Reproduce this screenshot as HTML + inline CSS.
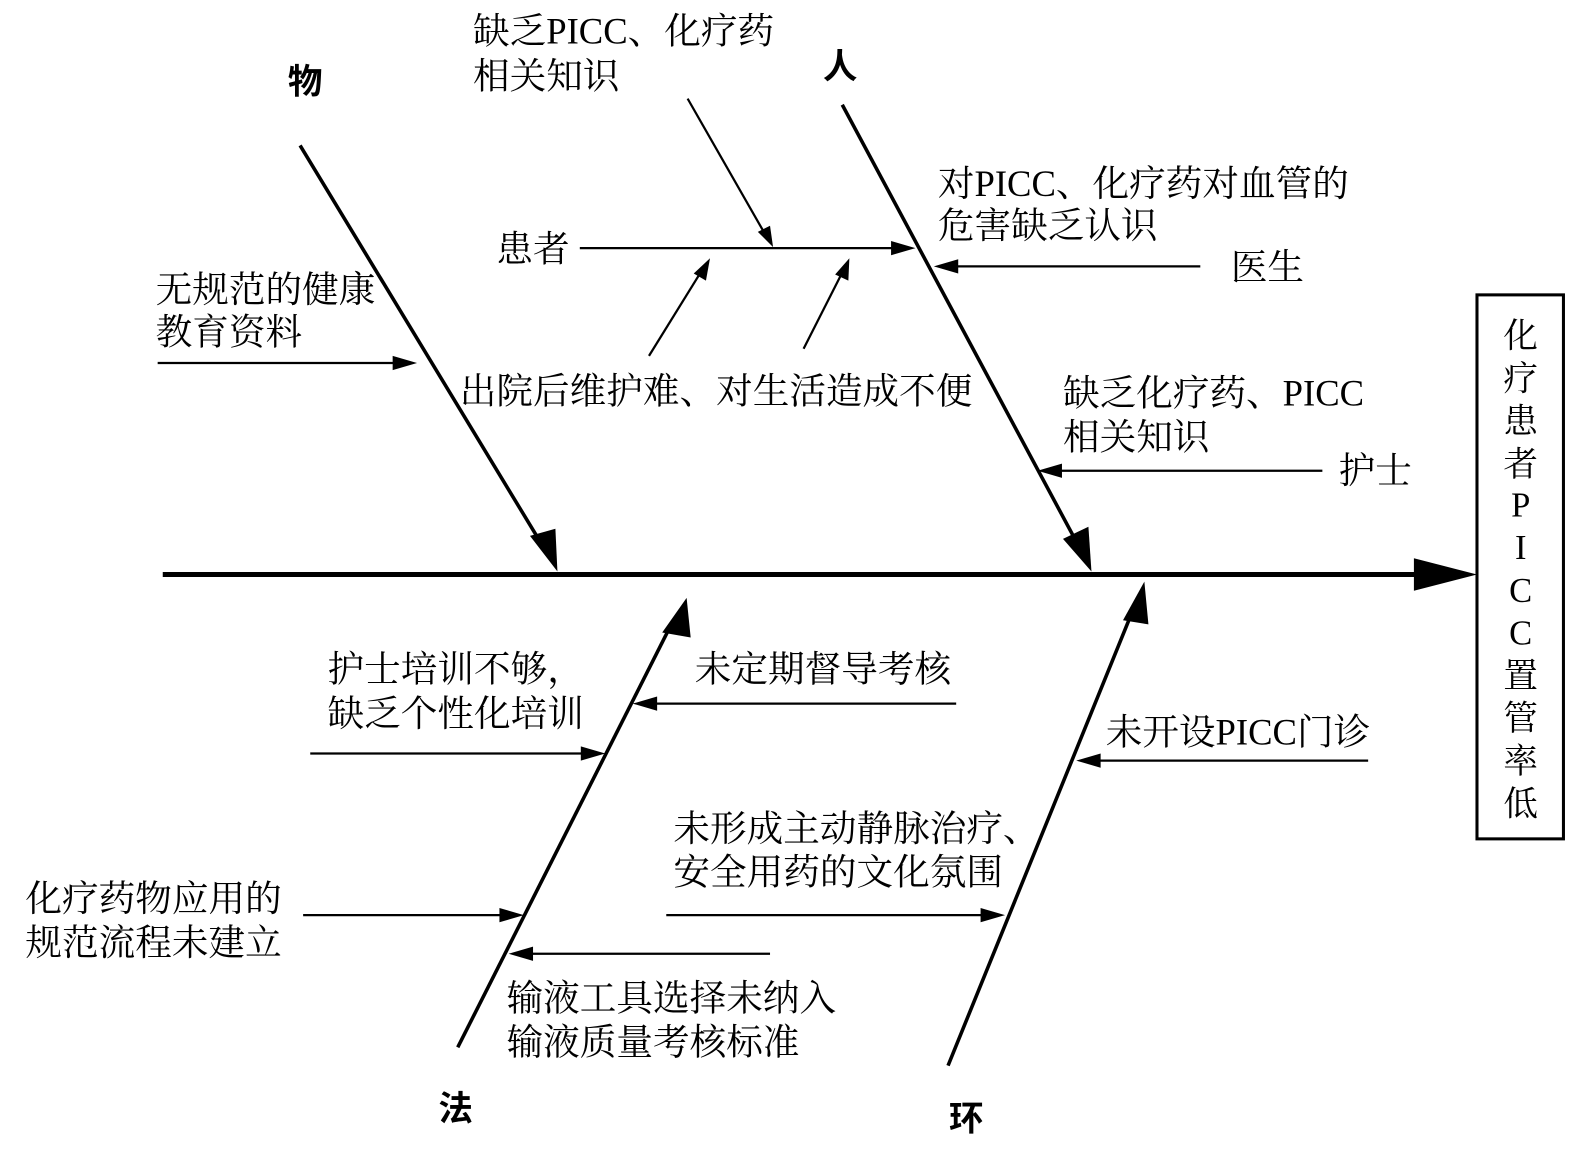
<!DOCTYPE html>
<html><head><meta charset="utf-8"><style>
html,body{margin:0;padding:0;background:#fff;}
svg{display:block;}
text{font-family:"Liberation Serif","Noto Serif CJK SC",serif;font-size:36px;fill:#000;}
.bx{font-size:34px;}
.b{font-weight:bold;font-family:"Liberation Sans","Noto Sans CJK SC",sans-serif;font-size:34px;}
</style></head><body>
<svg width="1596" height="1149" viewBox="0 0 1569 1130" preserveAspectRatio="none" xmlns="http://www.w3.org/2000/svg">
<!-- spine -->
<line x1="160" y1="565" x2="1395" y2="565" stroke="#000" stroke-width="5"/>
<polygon points="1390,549 1452,565 1390,581" fill="#000"/>
<!-- box -->
<rect x="1452" y="290" width="85" height="535" fill="#fff" stroke="#000" stroke-width="3"/>
<g text-anchor="middle" class="bx">
<text class="bx" x="1495" y="342">化</text><text class="bx" x="1495" y="384">疗</text><text class="bx" x="1495" y="426">患</text><text class="bx" x="1495" y="468">者</text>
<text class="bx" x="1495" y="508">P</text><text class="bx" x="1495" y="550">I</text><text class="bx" x="1495" y="592">C</text><text class="bx" x="1495" y="634">C</text>
<text class="bx" x="1495" y="676">置</text><text class="bx" x="1495" y="718">管</text><text class="bx" x="1495" y="760">率</text><text class="bx" x="1495" y="802">低</text>
</g>
<!-- main bones -->
<g stroke="#000" stroke-width="3.5">
<line x1="295" y1="143" x2="536" y2="541"/>
<line x1="828" y1="103" x2="1062" y2="540"/>
<line x1="450" y1="1030" x2="662" y2="610"/>
<line x1="932" y1="1048" x2="1115" y2="597"/>
</g>
<polygon points="521,527 548,562 546,520" fill="#000"/>
<polygon points="1045,530 1073,562 1070,518" fill="#000"/>
<polygon points="651,622 675,588 679,627" fill="#000"/>
<polygon points="1104,610 1125,572 1129,614" fill="#000"/>
<text class="b" x="300" y="92" text-anchor="middle">物</text>
<text class="b" x="826" y="77" text-anchor="middle">人</text>
<text class="b" x="448" y="1102" text-anchor="middle">法</text>
<text class="b" x="950" y="1112" text-anchor="middle">环</text>
<!-- sub arrows -->
<g stroke="#000" stroke-width="2.2" fill="none">
<line x1="570" y1="244" x2="885" y2="244"/>
<line x1="676" y1="97" x2="752" y2="230"/>
<line x1="638" y1="350" x2="690" y2="266"/>
<line x1="790" y1="343" x2="829" y2="266"/>
<line x1="155" y1="357" x2="395" y2="357"/>
<line x1="1180" y1="262" x2="935" y2="262"/>
<line x1="1300" y1="463" x2="1037" y2="463"/>
<line x1="305" y1="741" x2="580" y2="741"/>
<line x1="940" y1="692" x2="638" y2="692"/>
<line x1="298" y1="900" x2="500" y2="900"/>
<line x1="757" y1="938" x2="516" y2="938"/>
<line x1="1345" y1="748" x2="1074" y2="748"/>
<line x1="655" y1="900" x2="972" y2="900"/>
</g>
<g fill="#000">
<polygon points="900,244 876,237 876,251"/>
<polygon points="760,243 745,228 757,222"/>
<polygon points="698,254 694,276 682,269"/>
<polygon points="835,254 834,276 821,270"/>
<polygon points="410,357 386,350 386,364"/>
<polygon points="918,262 942,255 942,269"/>
<polygon points="1020,463 1044,456 1044,470"/>
<polygon points="595,741 571,734 571,748"/>
<polygon points="622,692 646,685 646,699"/>
<polygon points="515,900 491,893 491,907"/>
<polygon points="500,938 524,931 524,945"/>
<polygon points="1058,748 1082,741 1082,755"/>
<polygon points="988,900 964,893 964,907"/>
</g>
<!-- labels -->
<text x="465" y="43">缺乏PICC、化疗药</text>
<text x="465" y="87">相关知识</text>
<text x="488" y="257">患者</text>
<text x="153" y="297">无规范的健康</text>
<text x="153" y="339">教育资料</text>
<text x="452" y="397">出院后维护难、对生活造成不便</text>
<text x="922" y="193">对PICC、化疗药对血管的</text>
<text x="922" y="234">危害缺乏认识</text>
<text x="1210" y="275">医生</text>
<text x="1045" y="399">缺乏化疗药、PICC</text>
<text x="1045" y="442">相关知识</text>
<text x="1316" y="475">护士</text>
<text x="322" y="670">护士培训不够，</text>
<text x="322" y="714">缺乏个性化培训</text>
<text x="683" y="670">未定期督导考核</text>
<text x="1087" y="732">未开设PICC门诊</text>
<text x="662" y="827">未形成主动静脉治疗、</text>
<text x="662" y="870">安全用药的文化氛围</text>
<text x="25" y="896">化疗药物应用的</text>
<text x="25" y="939">规范流程未建立</text>
<text x="498" y="994">输液工具选择未纳入</text>
<text x="498" y="1037">输液质量考核标准</text>
</svg>
</body></html>
